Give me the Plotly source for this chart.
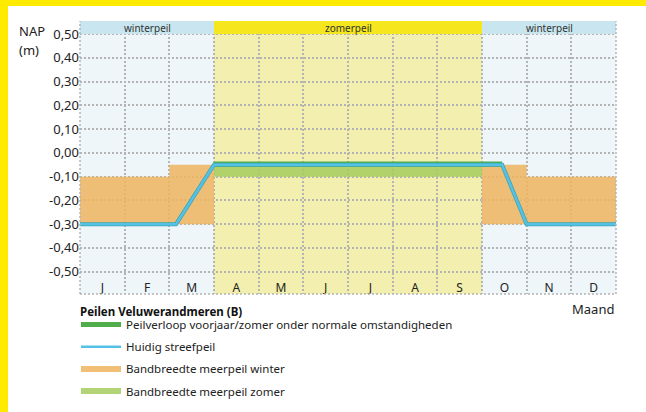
import plotly.graph_objects as go

# ---------------- data ----------------
months = ["J", "F", "M", "A", "M", "J", "J", "A", "S", "O", "N", "D"]
y_ticks = [0.50, 0.40, 0.30, 0.20, 0.10, 0.00, -0.10, -0.20, -0.30, -0.40, -0.50]

# bandbreedte per maand (None = geen band)
winter_upper = [-0.10, -0.10, -0.05, None, None, None, None, None, None, -0.05, -0.10, -0.10]
winter_lower = [-0.30, -0.30, -0.30, None, None, None, None, None, None, -0.30, -0.30, -0.30]
summer_upper = [None, None, None, -0.05, -0.05, -0.05, -0.05, -0.05, -0.05, None, None, None]
summer_lower = [None, None, None, -0.10, -0.10, -0.10, -0.10, -0.10, -0.10, None, None, None]

# lijnen (x in maanden vanaf 1 januari)
streef_x = [0.0, 2.15, 3.0, 9.45, 10.0, 12.0]
streef_y = [-0.30, -0.30, -0.05, -0.05, -0.30, -0.30]
verloop_x = [3.0, 9.45]
verloop_y = [-0.047, -0.047]

season_names = ["winterpeil", "zomerpeil", "winterpeil"]
season_start = [0, 3, 9]
season_end = [3, 9, 12]

legend_title = "Peilen Veluwerandmeren (B)"

# ---------------- helpers ----------------
def band_polygon(upper, lower):
    xs, ys = [], []
    n = len(upper)
    i = 0
    while i < n:
        if upper[i] is None:
            i += 1
            continue
        j = i
        while j < n and upper[j] is not None:
            j += 1
        top = []
        for k in range(i, j):
            top += [(k, upper[k]), (k + 1, upper[k])]
        bot = []
        for k in range(j - 1, i - 1, -1):
            bot += [(k + 1, lower[k]), (k, lower[k])]
        pts = top + bot + [top[0]]
        xs += [p[0] for p in pts] + [None]
        ys += [p[1] for p in pts] + [None]
        i = j
    return xs, ys

FONT = "Noto Sans"
Y_MIN, Y_MAX = -0.594, 0.555
W, H = 646, 412
ML, MR, MT, MB = 80, 30, 21, 118
PW, PH = W - ML - MR, H - MT - MB

fig = go.Figure()

wx, wy = band_polygon(winter_upper, winter_lower)
sx, sy = band_polygon(summer_upper, summer_lower)

fig.add_trace(go.Scatter(x=wx, y=wy, fill="toself", mode="none",
                         fillcolor="rgba(238,180,94,0.85)",
                         name="Bandbreedte meerpeil winter", legendrank=3,
                         legendgroup="c", hoverinfo="skip"))
fig.add_trace(go.Scatter(x=sx, y=sy, fill="toself", mode="none",
                         fillcolor="rgba(164,204,95,0.85)",
                         name="Bandbreedte meerpeil zomer", legendrank=4,
                         legendgroup="d", hoverinfo="skip"))
fig.add_trace(go.Scatter(x=verloop_x, y=verloop_y, mode="lines",
                         line=dict(color="#4FAE4A", width=5),
                         name="Peilverloop voorjaar/zomer onder normale omstandigheden",
                         legendrank=1, legendgroup="a"))
fig.add_trace(go.Scatter(x=streef_x, y=streef_y, mode="lines",
                         line=dict(color="#3AA6B0", width=4),
                         showlegend=False, hoverinfo="skip", legendgroup="b"))
fig.add_trace(go.Scatter(x=streef_x, y=streef_y, mode="lines",
                         line=dict(color="#55C1E6", width=2.5),
                         name="Huidig streefpeil", legendrank=2, legendgroup="b"))

shapes = []
bg_cols = ["#EEF6FA", "#F3EFAE", "#EEF6FA"]
hd_cols = ["#C9E6F0", "#F5E61E", "#C9E6F0"]
for s0, s1, bc, hc in zip(season_start, season_end, bg_cols, hd_cols):
    shapes.append(dict(type="rect", xref="x", yref="paper", x0=s0, x1=s1, y0=0, y1=1,
                       fillcolor=bc, line=dict(width=0), layer="below"))
    shapes.append(dict(type="rect", xref="x", yref="y", x0=s0, x1=s1, y0=0.5, y1=Y_MAX,
                       fillcolor=hc, line=dict(width=0), layer="above"))

dot = dict(color="#B4B4B4", width=1.5, dash="2px,2px")
shapes.append(dict(type="line", xref="paper", yref="paper", x0=0, x1=0, y0=0, y1=1, line=dot, layer="above"))
shapes.append(dict(type="line", xref="paper", yref="paper", x0=1, x1=1, y0=0, y1=1, line=dot, layer="above"))
shapes.append(dict(type="line", xref="paper", yref="paper", x0=0, x1=1, y0=0, y1=0, line=dot, layer="above"))

# yellow frame strips (left and top)
shapes.append(dict(type="rect", xref="paper", yref="paper",
                   x0=-ML / PW, x1=-(ML - 8) / PW, y0=-MB / PH, y1=1 + MT / PH,
                   fillcolor="#FFEB00", line=dict(width=0), layer="above"))
shapes.append(dict(type="rect", xref="paper", yref="paper",
                   x0=-ML / PW, x1=1 + MR / PW, y0=1 + (MT - 6) / PH, y1=1 + MT / PH,
                   fillcolor="#FFEB00", line=dict(width=0), layer="above"))

annotations = []
for name, s0, s1 in zip(season_names, season_start, season_end):
    annotations.append(dict(x=(s0 + s1) / 2, y=(0.5 + Y_MAX) / 2, xref="x", yref="y",
                            text=name, showarrow=False,
                            font=dict(family=FONT, size=10, color="#333333")))
annotations.append(dict(x=-63 / PW, y=1 - 10 / PH, xref="paper", yref="paper",
                        text="NAP", showarrow=False, align="left",
                        xanchor="left", yanchor="middle",
                        font=dict(family=FONT, size=13, color="#222222")))
annotations.append(dict(x=-63 / PW, y=1 - 29 / PH, xref="paper", yref="paper",
                        text="(m)", showarrow=False, align="left",
                        xanchor="left", yanchor="middle",
                        font=dict(family=FONT, size=13, color="#222222")))
annotations.append(dict(x=1, y=-4 / PH, xref="paper", yref="paper",
                        text="Maand", showarrow=False, xanchor="right", yanchor="top",
                        font=dict(family=FONT, size=13, color="#222222")))
annotations.append(dict(x=-2 / PW, y=-17 / PH, xref="paper", yref="paper",
                        text=f"<b>{legend_title}</b>", showarrow=False,
                        xanchor="left", yanchor="middle",
                        font=dict(family=FONT, size=11.5, color="#111111")))

fig.update_layout(
    width=W, height=H,
    margin=dict(l=ML, r=MR, t=MT, b=MB, autoexpand=False),
    paper_bgcolor="white", plot_bgcolor="white",
    separators=",.",
    font=dict(family=FONT, color="#222222"),
    shapes=shapes, annotations=annotations,
    showlegend=True,
    legend=dict(
        x=-4 / PW, y=-16 / PH, xanchor="left", yanchor="top",
        orientation="v", traceorder="grouped", tracegroupgap=3.2,
        itemwidth=40,
        bgcolor="rgba(0,0,0,0)",
        font=dict(family=FONT, size=11.5, color="#222222"),
    ),
    xaxis=dict(
        range=[0, 12], tickvals=[i + 0.5 for i in range(12)], ticktext=months,
        showgrid=False, zeroline=False, showline=False, ticks="",
        ticklabelposition="inside", ticklabelstandoff=-3,
        tickfont=dict(family=FONT, size=12, color="#222222"),
        minor=dict(tick0=0, dtick=1, showgrid=True, gridcolor="#B4B4B4",
                   gridwidth=1.5, griddash="2px,2px", ticks=""),
        fixedrange=True,
    ),
    yaxis=dict(
        range=[Y_MIN, Y_MAX], tickvals=y_ticks,
        ticktext=[f"{v:.2f}".replace(".", ",").replace("-0,00", "0,00") for v in y_ticks],
        showgrid=True, gridcolor="#B4B4B4", gridwidth=1.5, griddash="2px,2px",
        zeroline=False, showline=False, ticks="",
        tickfont=dict(family=FONT, size=13, color="#222222"),
        fixedrange=True,
    ),
)

fig.write_html("out.html", config={"displayModeBar": False},
               post_script="document.body.style.margin='0px';")
